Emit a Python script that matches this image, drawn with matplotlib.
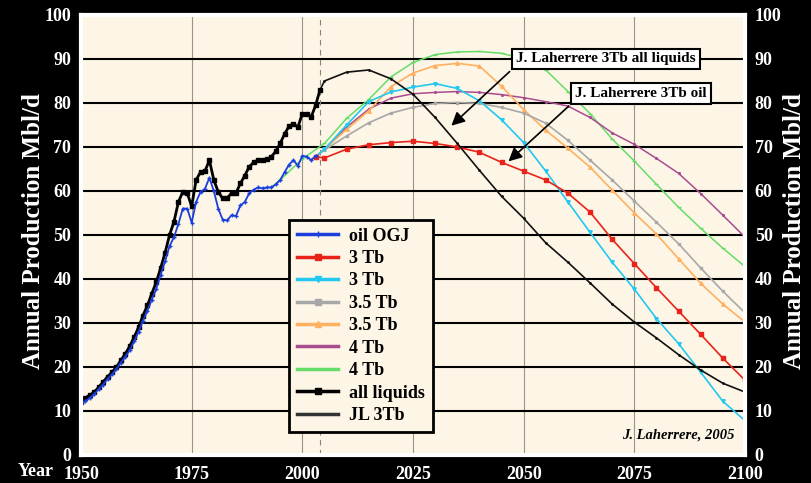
import matplotlib
matplotlib.use('Agg')
import matplotlib.pyplot as plt
from matplotlib.lines import Line2D

# history, yearly
hist_years = list(range(1950, 2004))
oil_ogj = [11.5, 12.2, 13.0, 13.8, 15.0, 16.0, 17.3, 18.3, 19.5, 21.0,
           22.3, 23.8, 25.8, 28.0, 30.5, 32.8, 35.3, 37.8, 41.0, 44.0,
           47.5, 49.5, 52.5, 56.0, 56.0, 52.8, 57.5, 59.8, 60.5, 63.0,
           60.0, 56.0, 53.5, 53.3, 54.5, 54.3, 56.7, 57.5, 59.5, 60.3,
           60.8, 60.6, 60.8, 60.8, 61.5, 62.5, 64.3, 66.0, 67.0, 65.7,
           68.0, 67.8, 67.0, 68.0]

liq_years = list(range(1950, 2005))
all_liquids = [12.0, 13.0, 13.6, 14.3, 15.4, 16.6, 17.8, 18.8, 20.0, 21.5,
               23.0, 24.7, 26.8, 29.0, 31.7, 34.0, 36.7, 39.3, 42.5, 46.0,
               50.0, 53.0, 57.5, 59.8, 59.5, 56.5, 62.5, 64.3, 64.5, 67.0,
               62.5, 59.8, 58.3, 58.4, 59.5, 59.5, 61.7, 63.5, 65.5, 66.5,
               67.0, 67.0, 67.2, 67.8, 69.0, 70.8, 73.0, 74.7, 75.3, 74.5,
               77.6, 77.6, 76.8, 79.5, 83.0]

# scenarios
model_years = [2003] + list(range(2005, 2101, 5))
red_3tb = [67.8, 67.5, 69.5, 70.5, 71.0, 71.3, 70.8, 70.0, 68.8, 66.5, 64.5,
           62.5, 59.5, 55.2, 49.0, 43.5, 38.0, 32.7, 27.4, 22.0, 17.0]
cyan_3tb = [67.8, 69.5, 75.0, 80.3, 82.5, 83.6, 84.4, 83.3, 80.5, 76.2, 71.0,
            64.5, 57.5, 50.6, 43.8, 37.7, 31.0, 25.3, 18.8, 12.2, 7.8]
gray_35tb = [67.8, 69.3, 72.5, 75.5, 77.7, 79.0, 79.9, 80.1, 79.9, 79.0, 77.7,
             75.4, 71.5, 67.0, 62.5, 57.7, 52.9, 48.0, 42.5, 37.2, 32.3]
orange_35tb = [67.8, 69.5, 74.0, 78.2, 83.7, 86.8, 88.5, 89.0, 88.4, 83.8, 78.5,
               73.8, 69.7, 65.4, 60.2, 55.0, 50.2, 44.6, 39.0, 34.3, 30.2]
purple_4tb = [67.8, 69.5, 74.5, 78.6, 81.1, 82.1, 82.4, 82.6, 82.4, 81.9, 81.2,
              80.3, 79.3, 76.7, 73.2, 70.6, 67.4, 64.0, 59.4, 54.5, 49.5]

green_years = [1993, 1995, 2000] + list(range(2005, 2101, 5))
green_4tb = [60.8, 62.5, 67.3, 70.8, 76.5, 80.8, 85.9, 89.2, 91.0, 91.6, 91.7,
             91.3, 90.0, 87.5, 82.6, 77.6, 71.8, 66.8, 61.5, 56.3, 51.5, 47.0, 42.8]

jl_years = [2004] + list(range(2005, 2101, 5))
jl_3tb = [83.0, 85.0, 87.0, 87.5, 85.5, 82.0, 76.7, 70.8, 64.7, 58.8, 53.8,
          48.2, 43.8, 39.1, 34.3, 30.2, 26.6, 22.8, 19.3, 16.3, 14.3]

serif = 'Liberation Serif'
plt.rcParams['font.family'] = serif
plt.rcParams['font.weight'] = 'bold'

fig = plt.figure(figsize=(8.11, 4.83), dpi=100, facecolor='black')
ax = fig.add_axes([0.0999, 0.058, 0.8187, 0.911])
ax.set_facecolor('#fdf5e6')

ax.set_xlim(1950, 2100)
ax.set_ylim(0, 100)
ax.set_xticks(range(1950, 2101, 25))
ax.set_yticks(range(0, 101, 10))
ax.set_axisbelow(True)
ax.yaxis.grid(True, color='black', lw=1.5)
ax.xaxis.grid(True, color='#9a948a', lw=0.8)
ax.axvline(2004, color='#8a847a', ls='--', lw=0.8, dashes=(5, 4))

for s in ax.spines.values():
    s.set_color('white')
    s.set_linewidth(3)

ax.tick_params(length=0, colors='white', labelsize=13, pad=7,
               labelright=True, right=True)
ax.tick_params(axis='x', pad=8)

ax.plot(green_years, green_4tb, color='#66dd66', lw=1.1, marker='_', ms=3)
ax.plot(model_years, purple_4tb, color='#a84c90', lw=1.1, marker='.', ms=2.5)
ax.plot(model_years, orange_35tb, color='#ffb060', lw=1.2, marker='^', ms=2.5)
ax.plot(model_years, gray_35tb, color='#a8a8a8', lw=1.2, marker='s', ms=2)
ax.plot(model_years, cyan_3tb, color='#22c8f0', lw=1.2, marker='v', ms=2.5)
ax.plot(model_years, red_3tb, color='#e8231a', lw=1.2, marker='s', ms=2.5)
ax.plot(jl_years, jl_3tb, color='#111111', lw=1.2, marker='.', ms=2)
ax.plot(liq_years, all_liquids, color='black', lw=2, marker='s', ms=2.5)
ax.plot(hist_years, oil_ogj, color='#1a3fdc', lw=1.3, marker='+', ms=3)

handles = [
    Line2D([0], [0], color='#1a3fdc', lw=2.5, marker='+', ms=5),
    Line2D([0], [0], color='#e8231a', lw=2.5, marker='s', ms=4),
    Line2D([0], [0], color='#22c8f0', lw=2.5, marker='v', ms=4),
    Line2D([0], [0], color='#a8a8a8', lw=2.5, marker='s', ms=4),
    Line2D([0], [0], color='#ffb060', lw=2.5, marker='^', ms=4),
    Line2D([0], [0], color='#a84c90', lw=2.5),
    Line2D([0], [0], color='#66dd66', lw=2.5),
    Line2D([0], [0], color='black', lw=2.5, marker='s', ms=4),
    Line2D([0], [0], color='#333333', lw=2.5),
]
labels = ['oil OGJ', '3 Tb', '3 Tb', '3.5 Tb', '3.5 Tb', '4 Tb', '4 Tb',
          'all liquids', 'JL 3Tb']
leg = ax.legend(handles, labels, loc='lower left', bbox_to_anchor=(0.313, 0.052),
                fontsize=13, frameon=True, fancybox=False, framealpha=1,
                facecolor='#fdf5e6', edgecolor='black', handlelength=2.3,
                handletextpad=0.6, labelspacing=0.3, borderpad=0.45,
                borderaxespad=0)
leg.get_frame().set_linewidth(2)

box = dict(boxstyle='square,pad=0.25', fc='white', ec='black', lw=1.5)
ax.annotate('J. Laherrere 3Tb all liquids', xy=(2033.2, 74.4),
            xytext=(2068.6, 90.0), ha='center', va='center', fontsize=11,
            bbox=box, zorder=5,
            arrowprops=dict(arrowstyle='-|>', color='black', lw=1.2,
                            mutation_scale=20, relpos=(0.0, 0.0)))
ax.annotate('J. Laherrere 3Tb oil', xy=(2046.1, 66.3),
            xytext=(2076.5, 82.1), ha='center', va='center', fontsize=11,
            bbox=box, zorder=5,
            arrowprops=dict(arrowstyle='-|>', color='black', lw=1.2,
                            mutation_scale=20, relpos=(0.0, 0.0)))

ax.text(0.985, 0.03, 'J. Laherrere, 2005', transform=ax.transAxes,
        ha='right', va='bottom', fontsize=10.5, style='italic')

fig.text(0.022, 0.024, 'Year', color='white', fontsize=13, ha='left', va='center')
fig.text(0.041, 0.522, 'Annual Production Mbl/d', color='white', fontsize=18,
         rotation=90, ha='center', va='center')
fig.text(0.980, 0.522, 'Annual Production Mbl/d', color='white', fontsize=18,
         rotation=90, ha='center', va='center')

fig.savefig('out.png', dpi=100, facecolor='black')
